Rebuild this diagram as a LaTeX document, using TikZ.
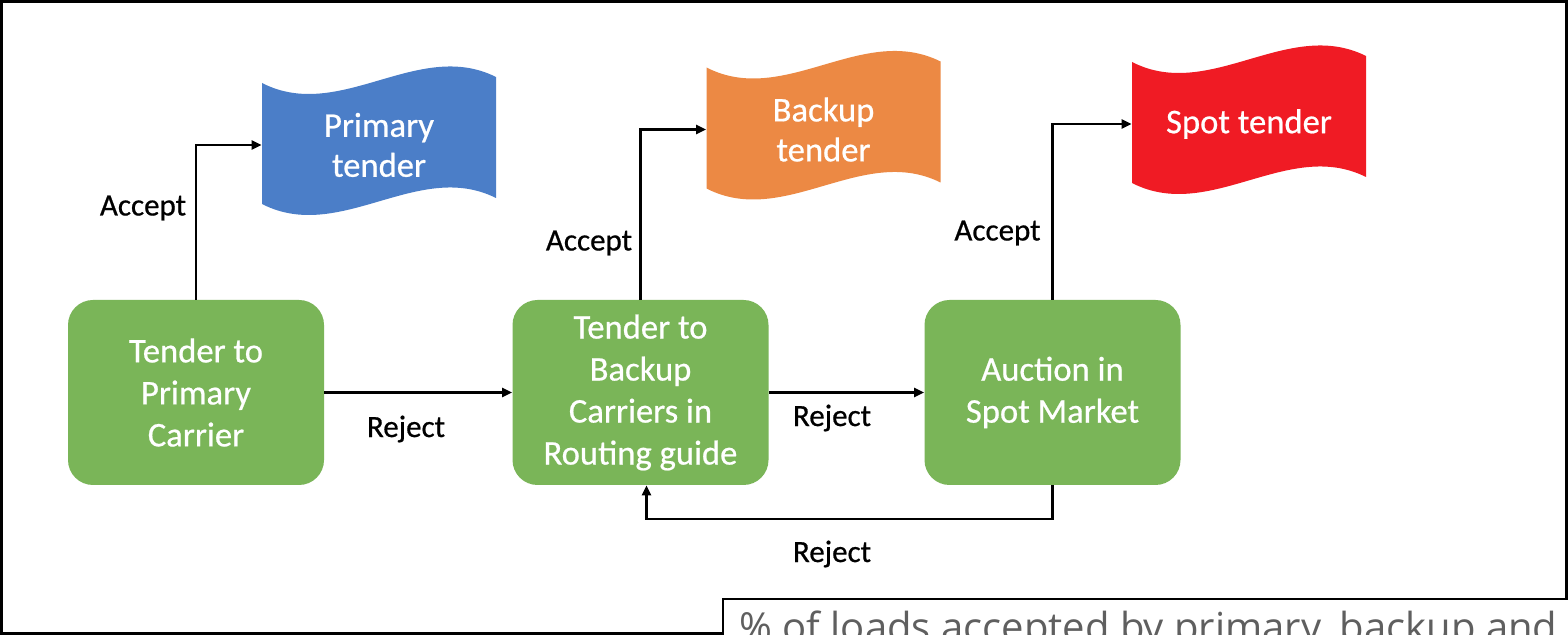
\documentclass[tikz,border=0pt]{standalone}
\usepackage{fontspec}
\setmainfont{Carlito}[FakeBold=0.6]
\newfontfamily\captionfont{Open Sans}
\usetikzlibrary{arrows.meta,calc}

\definecolor{stepgreen}{RGB}{122,181,88}
\definecolor{tenderblue}{RGB}{75,126,200}
\definecolor{tenderorange}{RGB}{236,137,68}
\definecolor{tenderred}{RGB}{240,27,36}
\definecolor{captiongray}{RGB}{95,95,95}

\tikzset{
  stepbox/.style={fill=stepgreen, rounded corners=12.5pt, minimum width=128pt,
    minimum height=92.5pt, inner sep=0pt, align=center, text=white,
    font=\fontsize{17.3}{21}\selectfont},
  tendertext/.style={minimum width=117pt, minimum height=62pt, inner sep=0pt,
    align=center, text=white, font=\fontsize{17.3}{20}\selectfont},
  flowlabel/.style={font=\fontsize{15.5}{18}\selectfont, text=black, inner sep=0pt},
  flowarrow/.style={line width=1.3pt, -{Triangle[length=5pt,width=4.5pt]}},
}

% wavy banner centred on the current shift origin
\newcommand\wavebanner[1]{%
  \fill[#1] (-117,-62) .. controls (-39,-22) and (39,-107) .. (117,-68)
    -- (117,53) .. controls (39,14) and (-39,99) .. (-117,59) -- cycle;}

\begin{document}
\begin{tikzpicture}[x=0.5pt,y=-0.5pt]
\useasboundingbox (0,0) rectangle (1568,635);
\clip (0,0) rectangle (1568,635);
\fill[white] (0,0) rectangle (1568,635);

% outer frame
\draw[line width=1.5pt] (1.5,1.5) rectangle (1566,633);

% process steps
\node[stepbox] (primary) at (196,392.5) {Tender to\\Primary\\Carrier};
\node[stepbox] (backup) at (640.5,392.5) {Tender to\\Backup\\Carriers in\\Routing guide};
\node[stepbox] (spot) at (1052.5,392.5) {Auction in\\Spot Market};

% tender outcomes (wavy banners)
\coordinate (pt) at (379,145);
\coordinate (bt) at (823.5,129.5);
\coordinate (st) at (1249,124);
\begin{scope}[shift={(pt)}]\wavebanner{tenderblue}\end{scope}
\begin{scope}[shift={(bt)}]\wavebanner{tenderorange}\end{scope}
\begin{scope}[shift={(st)}]\wavebanner{tenderred}\end{scope}
\node[tendertext] (ptender) at (pt) {Primary\\tender};
\node[tendertext] (btender) at (bt) {Backup\\tender};
\node[tendertext] (stender) at (st) {Spot tender};

% connectors
\draw[flowarrow] (primary.north) |- (ptender.west);
\draw[flowarrow] (backup.north) |- (btender.west);
\draw[flowarrow] (spot.north) |- (stender.west);
\draw[flowarrow] (primary.east) -- (backup.west);
\draw[flowarrow] (backup.east) -- (spot.west);
\coordinate (loop) at (0,519);
\draw[flowarrow] (spot.south) -- (spot.south |- loop)
  -- ([xshift=3pt]backup.south |- loop) -- ([xshift=3pt]backup.south);

% edge labels
\node[flowlabel] (acc1) at (143,208) {Accept};
\node[flowlabel] (acc2) at (589,243) {Accept};
\node[flowlabel] (acc3) at (997.5,233) {Accept};
\node[flowlabel] (rej1) at (406,429) {Reject};
\node[flowlabel] (rej2) at (832,418) {Reject};
\node[flowlabel] (rej3) at (832,554) {Reject};

% caption panel overlapping the lower right corner
\draw[fill=white, line width=0.8pt] (723,599) rectangle (1600,700);
\node[anchor=base west, inner sep=0pt, text=captiongray,
  font=\captionfont\fontsize{20}{24}\selectfont] (caption) at (739,641)
  {\% of loads accepted by primary, backup and};
\end{tikzpicture}
\end{document}
